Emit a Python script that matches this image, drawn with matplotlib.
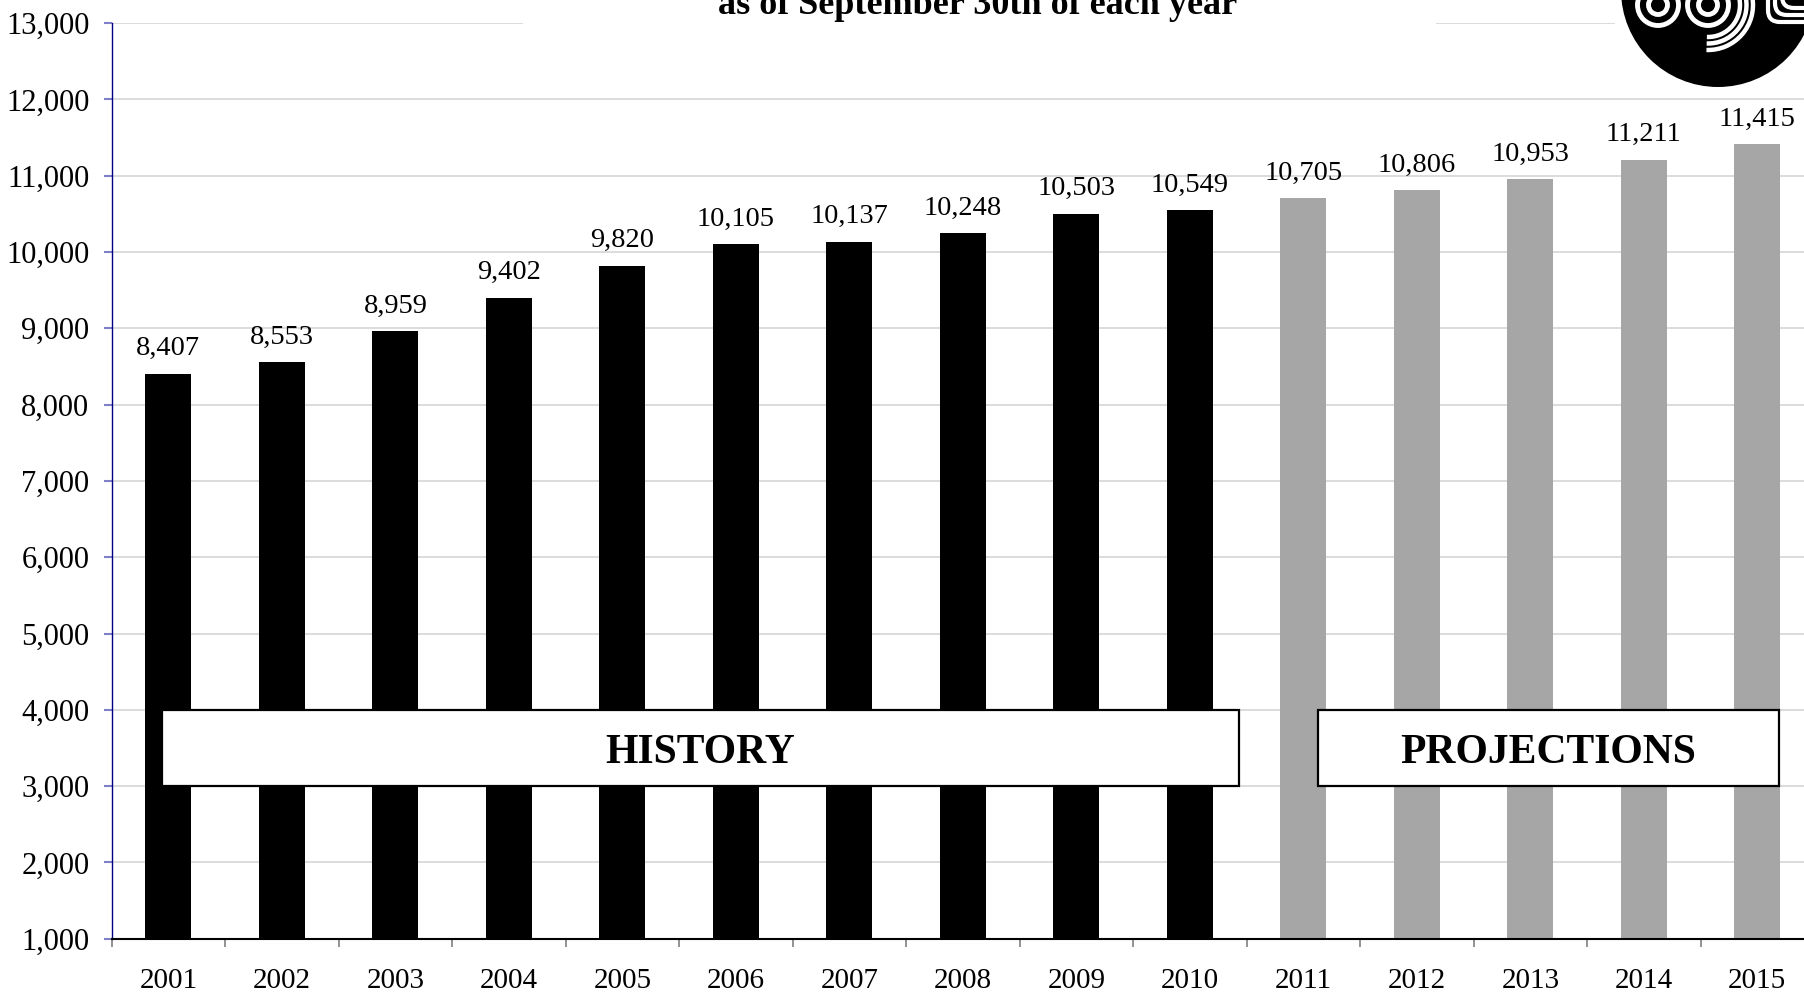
import matplotlib.pyplot as plt
import matplotlib.patches as mpatches
from matplotlib.ticker import FuncFormatter

plt.rcParams['font.family'] = ['Liberation Serif', 'DejaVu Serif']

years = ['2001', '2002', '2003', '2004', '2005', '2006', '2007', '2008',
         '2009', '2010', '2011', '2012', '2013', '2014', '2015']
history = [8407, 8553, 8959, 9402, 9820, 10105, 10137, 10248, 10503, 10549]
projections = [10705, 10806, 10953, 11211, 11415]

fig = plt.figure(figsize=(18.04, 9.93), dpi=100)
ax = fig.add_axes([0.0619, 0.0546, 0.9437, 0.9222])

x_hist = list(range(len(history)))
x_proj = list(range(len(history), len(years)))

b1 = ax.bar(x_hist, history, width=0.405, color='black', zorder=2)
b2 = ax.bar(x_proj, projections, width=0.405, color='#a6a6a6', zorder=2)
for bars, vals in [(b1, history), (b2, projections)]:
    ax.bar_label(bars, labels=[f'{v:,}' for v in vals], padding=9, fontsize=20.5)

ax.set_xlim(-0.5, 14.5)
ax.set_ylim(1000, 13000)
ax.set_yticks(range(1000, 13001, 1000))
ax.yaxis.set_major_formatter(FuncFormatter(lambda v, p: f'{int(v):,}'))
ax.yaxis.grid(True, color='#d9d9d9', lw=1.3, zorder=0)
ax.set_axisbelow(True)

ax.set_xticks(range(len(years)))
ax.set_xticklabels(years)
ax.set_xticks([i - 0.5 for i in range(len(years) + 1)], minor=True)
ax.tick_params(axis='x', which='major', length=0, pad=21, labelsize=21)
ax.tick_params(axis='x', which='minor', length=6, width=1.2, color='#808080')
ax.tick_params(axis='y', length=6, width=1.5, color='#8080c8', pad=10, labelsize=22)

for s in ['top', 'right']:
    ax.spines[s].set_visible(False)
ax.spines['left'].set_color('#000080')
ax.spines['left'].set_linewidth(1.0)
ax.spines['bottom'].set_color('black')
ax.spines['bottom'].set_linewidth(1.5)

# HISTORY / PROJECTIONS boxes
for x0, x1, label in [(-0.06, 9.43, 'HISTORY'), (10.13, 14.19, 'PROJECTIONS')]:
    ax.add_patch(mpatches.Rectangle((x0, 3000), x1 - x0, 1000, facecolor='white',
                                    edgecolor='black', lw=1.6, zorder=3))
    ax.text((x0 + x1) / 2, 3440, label, ha='center', va='center', fontsize=30,
            fontweight='bold', zorder=4)

# title band (cut off at top)
fig.add_artist(mpatches.Rectangle((0.29, 0.95), 0.506, 0.06, transform=fig.transFigure,
                                  facecolor='white', edgecolor='none', zorder=5))
fig.text(0.542, 0.9855, 'as of September 30th of each year', ha='center',
         va='baseline', fontsize=26, fontweight='bold', zorder=6)

# logo in top right corner
ov = fig.add_axes([0, 0, 1, 1], zorder=10)
ov.set_xlim(0, 1804)
ov.set_ylim(993, 0)
ov.axis('off')
ov.patch.set_alpha(0)
ov.add_patch(mpatches.Rectangle((1615, 0), 190, 35, facecolor='white', edgecolor='none'))
ov.add_patch(mpatches.Circle((1718, -10), 97, facecolor='black', edgecolor='none'))
for cx in [1658, 1708]:
    for r in [9.5, 20.5]:
        ov.add_patch(mpatches.Circle((cx, 5), r, facecolor='none',
                                     edgecolor='white', lw=3.5))
for r in [32, 38.5, 45]:
    ov.add_patch(mpatches.Arc((1708, 5), 2 * r, 2 * r, theta1=-10, theta2=92,
                              color='white', lw=3.2))
for off in [0, 7, 14]:
    ov.add_patch(mpatches.FancyBboxPatch((1768 + off, -40), 80, 62 - off,
                                         boxstyle='round,pad=0,rounding_size=12',
                                         facecolor='none', edgecolor='white', lw=3))

fig.savefig('out.png', dpi=100)
